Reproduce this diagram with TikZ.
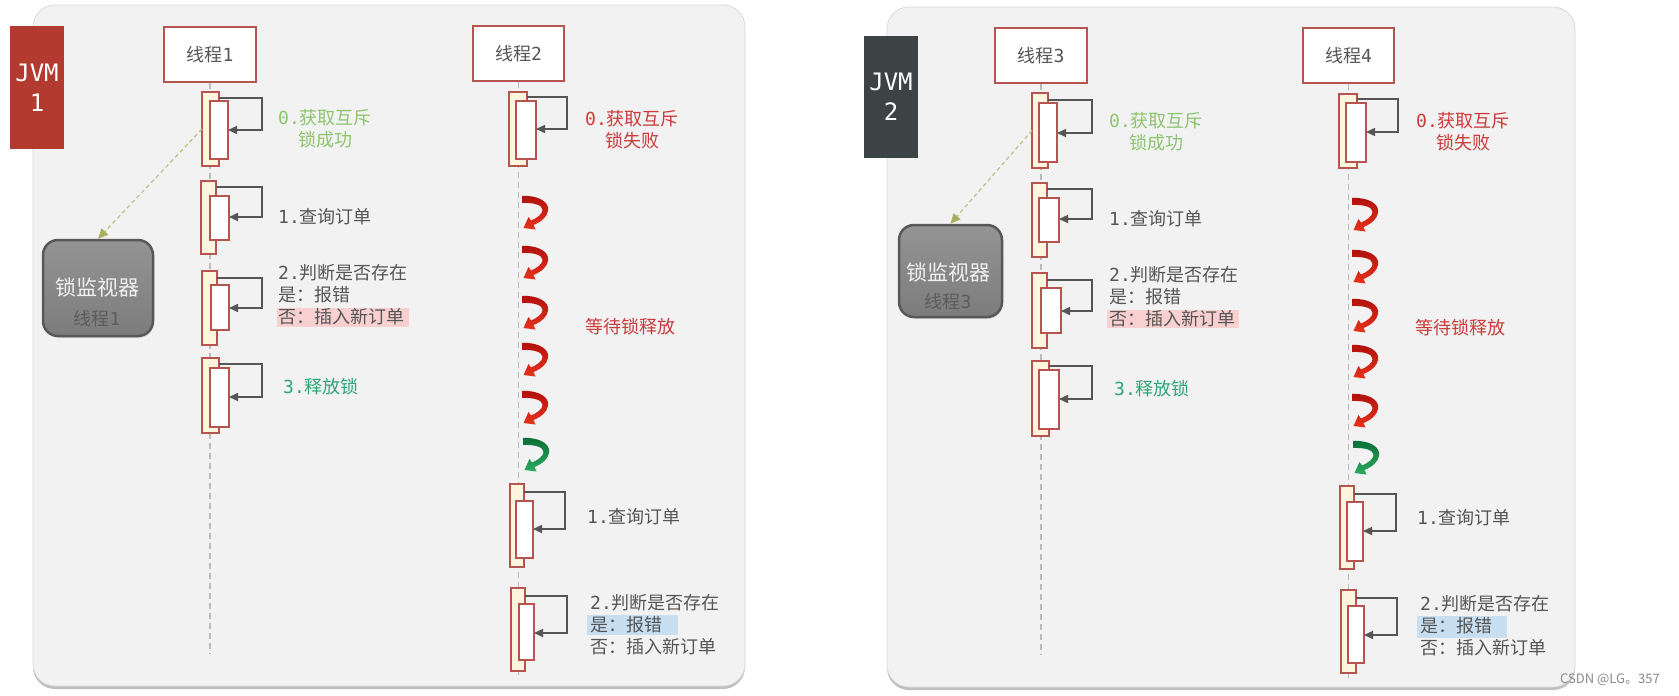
\documentclass[tikz,border=0pt]{standalone}
\usepackage{fontspec}
\setmainfont{DejaVu Sans Mono}
\newfontfamily\cjk{Noto Sans CJK SC}
\usetikzlibrary{arrows.meta,shadows}
\definecolor{panelbg}{HTML}{F2F2F2}
\definecolor{panelline}{HTML}{DADADA}
\definecolor{jvmred}{HTML}{B23A2E}
\definecolor{jvmgray}{HTML}{3D4244}
\definecolor{actred}{HTML}{B85450}
\definecolor{cream}{HTML}{FFF4DE}
\definecolor{arrowgray}{HTML}{555555}
\definecolor{lifegray}{HTML}{BBBBBB}
\definecolor{txtgray}{HTML}{555555}
\definecolor{lgreen}{HTML}{8DC46E}
\definecolor{lred}{HTML}{CC3A3A}
\definecolor{lteal}{HTML}{2EA57A}
\definecolor{pinkhl}{HTML}{F8D0D0}
\definecolor{bluehl}{HTML}{C8DFF2}
\definecolor{monborder}{HTML}{585858}
\definecolor{montop}{HTML}{949494}
\definecolor{monbot}{HTML}{7C7C7C}
\definecolor{montext}{HTML}{F0F0F0}
\definecolor{monsub}{HTML}{5C5C5C}
\definecolor{dashol}{HTML}{C2C28E}
\definecolor{tipol}{HTML}{A8B060}
\definecolor{curlrtop}{HTML}{B0100C}
\definecolor{curlrbot}{HTML}{E8321C}
\definecolor{curlgtop}{HTML}{0C6E36}
\definecolor{curlgbot}{HTML}{2AAA5E}
\definecolor{wmgray}{HTML}{8A8A8A}
\newcommand\zh[1]{{\cjk #1}}
\newcommand\fs[2]{\fontsize{#1}{#2}\selectfont}
\newcommand\act[6]{\pgfmathsetmacro\actw{#4-#2}\pgfmathsetmacro\acth{#5-#3}%
  \node[#6, minimum width=\actw pt, minimum height=\acth pt] (#1) at ({(#2+#4)/2},{(#3+#5)/2}) {};}
\newcommand\selfloop[5]{\draw[looparrow] (#1.east |- 0,#3) -- (#4,#3) -- (#4,#5) -- (#2.east |- 0,#5);}
\newcommand\curl[4]{\shade[top color=#3, bottom color=#4, shift={(#1,#2)}]
  (0,0) .. controls (16,-1) and (28,6) .. (26,15) .. controls (25,21) and (19,26) .. (11.5,29)
  -- (13.5,33.5) -- (1.5,32) -- (6.5,21) -- (9,24.5)
  .. controls (15,22) and (20.5,18) .. (20.5,14) .. controls (20.5,9) and (12,6.5) .. (0,7) -- cycle;}
\tikzset{
  panel/.style={fill=panelbg, draw=panelline, line width=0.8pt, rounded corners=22pt,
    drop shadow={shadow xshift=0pt, shadow yshift=-3pt, fill=black, opacity=0.25}},
  jvmbox/.style={inner sep=0, minimum width=54pt, minimum height=123pt, text=white, align=center, font=\fs{24}{30}},
  thread/.style={draw=actred, line width=1.5pt, fill=white, minimum width=92pt, minimum height=55pt,
    inner sep=0, text=txtgray, font=\fs{18}{22}},
  lifeline/.style={draw=lifegray, line width=1.5pt, dash pattern=on 6pt off 4pt},
  outerbox/.style={draw=actred, line width=1.3pt, fill=cream, inner sep=0, outer sep=0},
  innerbox/.style={draw=actred, line width=1.3pt, fill=white, inner sep=0, outer sep=0},
  looparrow/.style={draw=arrowgray, line width=1.5pt, -{Triangle[length=9pt,width=8pt]}},
  lbl/.style={inner sep=0, font=\fs{18}{22}, align=left, anchor=west},
  monitor/.style={draw=monborder, line width=2.5pt, top color=montop, bottom color=monbot,
    rounded corners=15pt, inner sep=0, drop shadow={shadow xshift=1pt, shadow yshift=-2pt, opacity=0.2}},
  montxt/.style={inner sep=0, align=center},
  monarrow/.style={draw=dashol, line width=1.3pt, dash pattern=on 4pt off 3pt,
    -{Triangle[length=10pt,width=9pt,fill=tipol,color=tipol]}},
}
\begin{document}
\begin{tikzpicture}[x=1pt,y=-1pt]
\useasboundingbox (0,0) rectangle (1679,696);
\fill[white] (0,0) rectangle (1679,696);
% panels
\path[panel] (33,5) rectangle (745,686);
\path[panel] (887,7) rectangle (1575,687);
% JVM labels
\node[jvmbox, fill=jvmred] (j1) at (37,87.5) {JVM\\1};
\node[jvmbox, fill=jvmgray, minimum height=122pt] (j2) at (891,97) {JVM\\2};
% thread boxes
\node[thread] (t1) at (210,54.5) {\zh{线程}1};
\node[thread, minimum width=91pt] (t2) at (518.5,53.5) {\zh{线程}2};
\node[thread] (t3) at (1041,55.5) {\zh{线程}3};
\node[thread, minimum width=91pt] (t4) at (1348.5,55.5) {\zh{线程}4};
% lifelines
\coordinate (e1) at (0,653);
\coordinate (e2) at (0,675);
\coordinate (e3) at (0,655);
\coordinate (e4) at (0,678);
\draw[lifeline] (t1.south) -- (t1.south |- e1);
\draw[lifeline] (t2.south) -- (t2.south |- e2);
\draw[lifeline] (t3.south) -- (t3.south |- e3);
\draw[lifeline] (t4.south) -- (t4.south |- e4);
% highlights
\fill[pinkhl] (277,308) rectangle (409,327);
\fill[pinkhl] (1107,310) rectangle (1239,328);
\fill[bluehl] (587,615) rectangle (678,635);
\fill[bluehl] (1417,616) rectangle (1507,638);
% thread 1 activations
\act{a1o}{202}{92}{219}{166}{outerbox}
\act{a1i}{210}{101}{228}{159}{innerbox}
\selfloop{a1o}{a1i}{98}{262}{130}
\act{b1o}{201}{181}{216}{254}{outerbox}
\act{b1i}{210}{196}{229}{240}{innerbox}
\selfloop{b1o}{b1i}{187}{262}{217}
\act{c1o}{202}{271}{217}{345}{outerbox}
\act{c1i}{211}{285}{229}{330}{innerbox}
\selfloop{c1o}{c1i}{278}{262}{308}
\act{d1o}{202}{358}{219}{433}{outerbox}
\act{d1i}{210}{368}{229}{427}{innerbox}
\selfloop{d1o}{d1i}{364}{262}{397}
% thread 2 activations
\act{a2o}{509}{92}{527}{166}{outerbox}
\act{a2i}{516}{101}{536}{159}{innerbox}
\selfloop{a2o}{a2i}{97}{567}{129}
\act{e2o}{510}{484}{524}{567}{outerbox}
\act{e2i}{516}{501}{533}{558}{innerbox}
\selfloop{e2o}{e2i}{492}{565}{529}
\act{f2o}{511}{588}{525}{671}{outerbox}
\act{f2i}{519}{604}{534}{660}{innerbox}
\selfloop{f2o}{f2i}{596}{567}{633}
% thread 3 activations
\act{a3o}{1032}{93}{1048}{168}{outerbox}
\act{a3i}{1039}{103}{1057}{162}{innerbox}
\selfloop{a3o}{a3i}{100}{1092}{133}
\act{b3o}{1032}{183}{1047}{257}{outerbox}
\act{b3i}{1039}{198}{1059}{242}{innerbox}
\selfloop{b3o}{b3i}{189}{1092}{219}
\act{c3o}{1032}{273}{1047}{348}{outerbox}
\act{c3i}{1041}{288}{1061}{333}{innerbox}
\selfloop{c3o}{c3i}{280}{1092}{311}
\act{d3o}{1032}{361}{1049}{436}{outerbox}
\act{d3i}{1039}{370}{1059}{429}{innerbox}
\selfloop{d3o}{d3i}{366}{1092}{399}
% thread 4 activations
\act{a4o}{1339}{94}{1357}{168}{outerbox}
\act{a4i}{1346}{103}{1366}{162}{innerbox}
\selfloop{a4o}{a4i}{99}{1398}{132}
\act{e4o}{1340}{486}{1354}{569}{outerbox}
\act{e4i}{1347}{502}{1363}{561}{innerbox}
\selfloop{e4o}{e4i}{494}{1396}{531}
\act{f4o}{1341}{590}{1356}{673}{outerbox}
\act{f4i}{1348}{606}{1364}{663}{innerbox}
\selfloop{f4o}{f4i}{598}{1397}{635}
% labels thread 1
\node[lbl, text=lgreen, align=center] (l1a) at (278,129) {0.\zh{获取互斥}\\\zh{锁成功}};
\node[lbl, text=txtgray] (l1b) at (278,217) {1.\zh{查询订单}};
\node[lbl, text=txtgray] (l1c) at (278,295) {2.\zh{判断是否存在}\\\zh{是：报错}\\\zh{否：插入新订单}};
\node[lbl, text=lteal] (l1d) at (283,387) {3.\zh{释放锁}};
% labels thread 2
\node[lbl, text=lred, align=center] (l2a) at (585,130) {0.\zh{获取互斥}\\\zh{锁失败}};
\node[lbl, text=lred] (l2w) at (585,327) {\zh{等待锁释放}};
\node[lbl, text=txtgray] (l2b) at (587,517) {1.\zh{查询订单}};
\node[lbl, text=txtgray] (l2c) at (590,625) {2.\zh{判断是否存在}\\\zh{是：报错}\\\zh{否：插入新订单}};
% labels thread 3
\node[lbl, text=lgreen, align=center] (l3a) at (1109,132) {0.\zh{获取互斥}\\\zh{锁成功}};
\node[lbl, text=txtgray] (l3b) at (1109,219) {1.\zh{查询订单}};
\node[lbl, text=txtgray] (l3c) at (1109,297) {2.\zh{判断是否存在}\\\zh{是：报错}\\\zh{否：插入新订单}};
\node[lbl, text=lteal] (l3d) at (1114,389) {3.\zh{释放锁}};
% labels thread 4
\node[lbl, text=lred, align=center] (l4a) at (1416,132) {0.\zh{获取互斥}\\\zh{锁失败}};
\node[lbl, text=lred] (l4w) at (1415,328) {\zh{等待锁释放}};
\node[lbl, text=txtgray] (l4b) at (1417,518) {1.\zh{查询订单}};
\node[lbl, text=txtgray] (l4c) at (1420,626) {2.\zh{判断是否存在}\\\zh{是：报错}\\\zh{否：插入新订单}};
% lock monitors
\node[monitor, minimum width=110pt, minimum height=96pt] (m1) at (98,288) {};
\node[montxt, font=\fs{21}{30}] (m1t) at (97,302) {\color{montext}\zh{锁监视器}\\{\fs{18}{30}\color{monsub}\zh{线程}1}};
\node[monitor, minimum width=103pt, minimum height=92pt] (m2) at (950.5,271) {};
\node[montxt, font=\fs{21}{28}] (m2t) at (948,286) {\color{montext}\zh{锁监视器}\\{\fs{18}{28}\color{monsub}\zh{线程}3}};
\draw[monarrow] (a1o.west) -- (m1.north);
\draw[monarrow] (a3o.west) -- (m2.north);
% waiting curls thread 2
\curl{522}{196}{curlrtop}{curlrbot}
\curl{522}{246}{curlrtop}{curlrbot}
\curl{522}{296}{curlrtop}{curlrbot}
\curl{522}{343}{curlrtop}{curlrbot}
\curl{522}{391}{curlrtop}{curlrbot}
\curl{523}{438}{curlgtop}{curlgbot}
% waiting curls thread 4
\curl{1352}{198}{curlrtop}{curlrbot}
\curl{1352}{250}{curlrtop}{curlrbot}
\curl{1352}{299}{curlrtop}{curlrbot}
\curl{1352}{345}{curlrtop}{curlrbot}
\curl{1352}{394}{curlrtop}{curlrbot}
\curl{1353}{441}{curlgtop}{curlgbot}
% watermark
\node[anchor=west, inner sep=0, text=wmgray, font=\cjk\fs{13}{15}] (wm) at (1560,680) {CSDN @LG。357};
\end{tikzpicture}
\end{document}
